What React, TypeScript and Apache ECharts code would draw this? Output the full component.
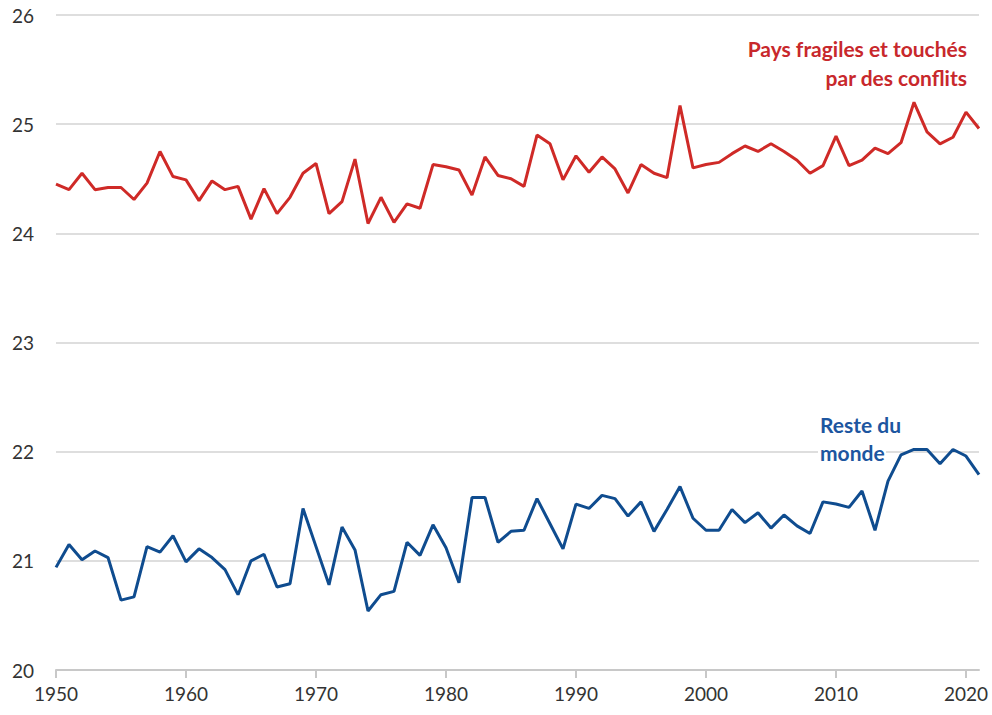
import React, { useEffect, useRef } from "react";
import * as echarts from "echarts";

const years: number[] = [];
for (let y = 1950; y <= 2021; y++) years.push(y);

const fragiles = [
  24.45, 24.40, 24.55, 24.40, 24.42, 24.42, 24.31, 24.46, 24.75, 24.52,
  24.49, 24.30, 24.48, 24.40, 24.43, 24.13, 24.41, 24.18, 24.33, 24.55,
  24.64, 24.18, 24.29, 24.68, 24.09, 24.33, 24.10, 24.27, 24.23, 24.63,
  24.61, 24.58, 24.35, 24.70, 24.53, 24.50, 24.43, 24.90, 24.82, 24.49,
  24.71, 24.56, 24.70, 24.59, 24.37, 24.63, 24.55, 24.51, 25.17, 24.60,
  24.63, 24.65, 24.73, 24.80, 24.75, 24.82, 24.75, 24.67, 24.55, 24.62,
  24.89, 24.62, 24.67, 24.78, 24.73, 24.83, 25.20, 24.93, 24.82, 24.88,
  25.11, 24.96,
];

const resteMonde = [
  20.94, 21.15, 21.01, 21.09, 21.03, 20.64, 20.67, 21.13, 21.08, 21.23,
  20.99, 21.11, 21.03, 20.92, 20.69, 21.00, 21.06, 20.76, 20.79, 21.48,
  21.13, 20.78, 21.31, 21.10, 20.54, 20.69, 20.72, 21.17, 21.05, 21.33,
  21.12, 20.80, 21.58, 21.58, 21.17, 21.27, 21.28, 21.57, 21.34, 21.11,
  21.52, 21.48, 21.60, 21.57, 21.41, 21.54, 21.27, 21.47, 21.68, 21.39,
  21.28, 21.28, 21.47, 21.35, 21.44, 21.30, 21.42, 21.32, 21.25, 21.54,
  21.52, 21.49, 21.64, 21.28, 21.73, 21.97, 22.02, 22.02, 21.89, 22.02,
  21.96, 21.79,
];

const labelFragiles = ["Pays fragiles et touchés", "par des conflits"];
const labelReste = ["Reste du", "monde"];

const RED = "#cf2a27";
const BLUE = "#0f4c8f";
const FONT = "Lato, 'Open Sans', sans-serif";

export default function App() {
  const ref = useRef<HTMLDivElement>(null);
  useEffect(() => {
    if (!ref.current) return;
    const chart = echarts.init(ref.current, undefined, { renderer: "svg" });
    const labelFont = `bold 21px ${FONT}`;
    chart.setOption({
      animation: false,
      textStyle: { fontFamily: FONT },
      grid: { left: 56, right: 13, top: 15, bottom: 45, containLabel: false },
      xAxis: {
        type: "value",
        min: 1950,
        max: 2021,
        interval: 10,
        axisLine: { show: true, lineStyle: { color: "#c8c8c8", width: 2 } },
        axisTick: { show: true, length: 8, lineStyle: { color: "#c8c8c8", width: 2 } },
        splitLine: { show: false },
        axisLabel: {
          color: "#333",
          fontSize: 19,
          fontFamily: FONT,
          margin: 14,
          showMaxLabel: false,
          formatter: (v: number) => String(v),
        },
      },
      yAxis: {
        type: "value",
        min: 20,
        max: 26,
        interval: 1,
        axisLine: { show: false },
        axisTick: { show: false },
        splitLine: { lineStyle: { color: "#dedede", width: 2 } },
        axisLabel: { color: "#333", fontSize: 19, fontFamily: FONT, margin: 22 },
      },
      series: [
        {
          type: "line",
          name: labelFragiles.join(" "),
          data: years.map((y, i) => [y, fragiles[i]]),
          symbol: "none",
          lineStyle: { color: RED, width: 3 },
          itemStyle: { color: RED },
        },
        {
          type: "line",
          name: labelReste.join(" "),
          data: years.map((y, i) => [y, resteMonde[i]]),
          symbol: "none",
          lineStyle: { color: BLUE, width: 3 },
          itemStyle: { color: BLUE },
        },
      ],
      graphic: [
        {
          type: "text",
          x: 967,
          y: 48,
          style: { text: labelFragiles[0], fill: "#c8282c", font: labelFont, align: "right", verticalAlign: "middle" },
        },
        {
          type: "text",
          x: 967,
          y: 77,
          style: { text: labelFragiles[1], fill: "#c8282c", font: labelFont, align: "right", verticalAlign: "middle" },
        },
        {
          type: "rect",
          shape: { x: 818, y: 443, width: 68, height: 18 },
          style: { fill: "#ffffff" },
          z: 100,
        },
        {
          type: "text",
          x: 820,
          y: 424,
          z: 101,
          style: { text: labelReste[0], fill: "#1d56a0", font: labelFont, align: "left", verticalAlign: "middle" },
        },
        {
          type: "text",
          x: 820,
          y: 452,
          z: 101,
          style: { text: labelReste[1], fill: "#1d56a0", font: labelFont, align: "left", verticalAlign: "middle" },
        },
      ],
    });
    return () => chart.dispose();
  }, []);
  return <div ref={ref} style={{ width: 992, height: 715, position: "absolute", left: 0, top: 0 }} />;
}
